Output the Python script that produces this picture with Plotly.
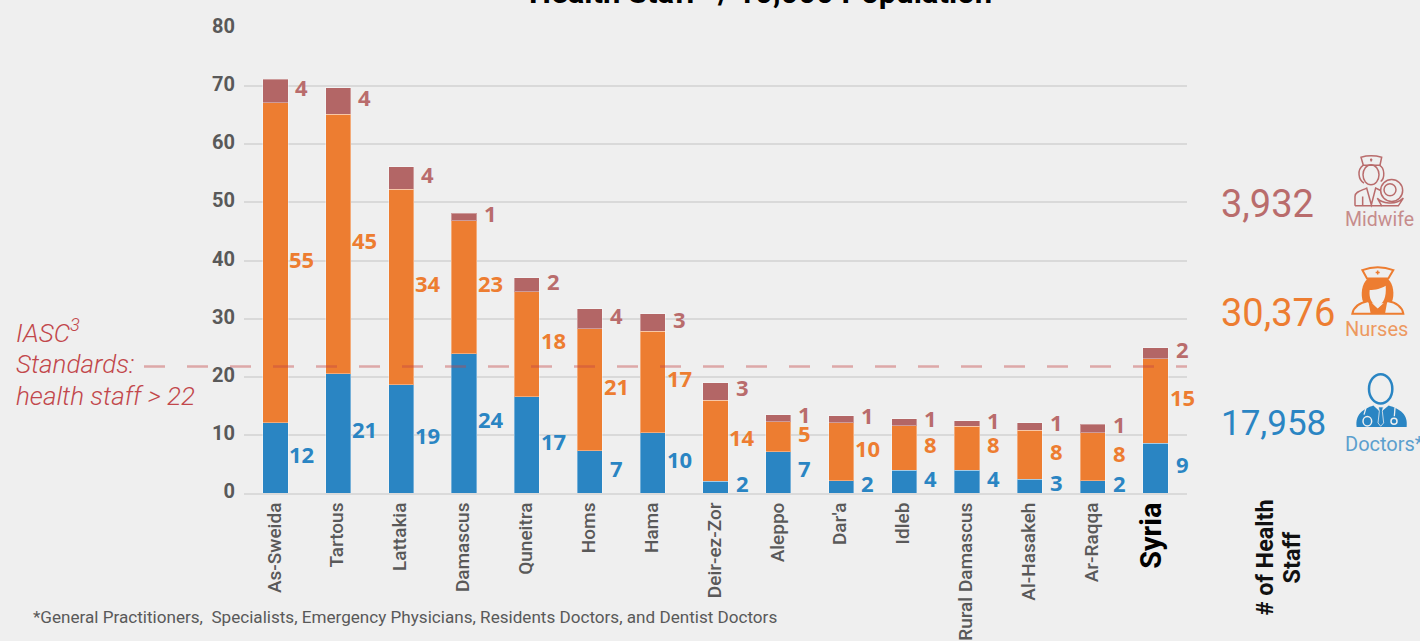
import re
import plotly.graph_objects as go

W, H = 1420, 641
PL, PR, PT, PB = 244, 1187, 28, 493.5

categories = ["As-Sweida", "Tartous", "Lattakia", "Damascus", "Queneitra", "Homs", "Hama", "Deir-ez-Zor",
              "Aleppo", "Dar'a", "Idleb", "Rural Damascus", "Al-Hasakeh", "Ar-Raqqa", "Syria"]
tick_labels = ["As-Sweida", "Tartous", "Lattakia", "Damascus", "Quneitra", "Homs", "Hama", "Deir-ez-Zor",
               "Aleppo", "Dar'a", "Idleb", "Rural Damascus", "Al-Hasakeh", "Ar-Raqqa",
               '<span style="font-size:29px;color:#000000"><b>Syria</b></span>']
doctors = [12.1, 20.5, 18.6, 24.0, 16.6, 7.3, 10.4, 2.0, 7.1, 2.1, 3.9, 3.9, 2.4, 2.1, 8.6]
nurses = [55.0, 44.7, 33.7, 22.8, 18.0, 21.0, 17.4, 14.0, 5.2, 10.0, 7.7, 7.6, 8.4, 8.3, 14.5]
midwives = [4.1, 4.5, 3.8, 1.3, 2.4, 3.4, 3.0, 3.0, 1.2, 1.2, 1.2, 0.9, 1.3, 1.4, 1.9]
doctor_labels = [12, 21, 19, 24, 17, 7, 10, 2, 7, 2, 4, 4, 3, 2, 9]
nurse_labels = [55, 45, 34, 23, 18, 21, 17, 14, 5, 10, 8, 8, 8, 8, 15]
midwife_labels = [4, 4, 4, 1, 2, 4, 3, 3, 1, 1, 1, 1, 1, 1, 2]
y_ticks = [0, 10, 20, 30, 40, 50, 60, 70, 80]
standard_value = 21.75

BG = "#EFEFEF"
BLUE, ORANGE, ROSE = "#2A85C3", "#ED7D31", "#B36666"
ROSE_TXT = "#B96C6C"
FONT = "Roboto"


def px(x):
    return (x - PL) / (PR - PL)


def py(y):
    return (PB - y) / (PB - PT)


fig = go.Figure()
edge = dict(color="rgba(255,255,255,0.35)", width=1)
for name, vals, col in [("Doctors", doctors, BLUE), ("Nurses", nurses, ORANGE), ("Midwife", midwives, ROSE)]:
    fig.add_bar(x=categories, y=vals, name=name, marker=dict(color=col, line=edge), hoverinfo="x+y")

ann = []
for i, c in enumerate(categories):
    base = 0
    for vals, labs, col in [(doctors, doctor_labels, BLUE), (nurses, nurse_labels, ORANGE), (midwives, midwife_labels, ROSE_TXT)]:
        ann.append(dict(x=c, y=base + vals[i] / 2, xref="x", yref="y", text=str(labs[i]), showarrow=False,
                        xshift=26.5, yshift=4, xanchor="center", yanchor="middle",
                        font=dict(family="Open Sans", size=22, color=col, weight=700)))
        base += vals[i]


def text(x, y, s, size, color, xanchor="left", yanchor="middle", angle=0, family=FONT, weight=400, italic=False, opacity=1):
    ann.append(dict(x=px(x), y=py(y), xref="paper", yref="paper", text=s, showarrow=False, xanchor=xanchor,
                    yanchor=yanchor, textangle=angle, opacity=opacity, align="center",
                    font=dict(family=family, size=size, color=color, weight=weight,
                              style="italic" if italic else "normal")))


text(760.5, -8, "Health Staff* / 10,000 Population", 31, "#000000", xanchor="center", weight=700)
text(31, 618, "*General Practitioners,\u00a0 Specialists, Emergency Physicians, Residents Doctors, and Dentist Doctors", 17.1, "#595959")
RED = "#C2474B"
text(14, 331, "IASC<sup>3</sup>", 26, RED, italic=True, weight=300)
text(14, 364, "Standards:", 26, RED, italic=True, weight=300)
text(14, 396, "health staff &gt; 22", 26, RED, italic=True, weight=300)
text(1219, 204, "3,932", 38, ROSE_TXT)
text(1219, 313, "30,376", 38, ORANGE)
text(1219, 424, "17,958", 35, BLUE)
text(1343, 220, "Midwife", 19.5, ROSE_TXT, opacity=0.75)
text(1343, 329, "Nurses", 20, ORANGE, opacity=0.75)
text(1343, 444, "Doctors*", 20, BLUE, opacity=0.75)
text(1265, 558, "# of Health", 23.4, "#111111", xanchor="center", angle=-90, weight=700)
text(1292, 558, "Staff", 23.4, "#111111", xanchor="center", angle=-90, weight=700)

# reference line
shapes = [dict(type="line", xref="paper", yref="y", x0=px(144), x1=1, y0=standard_value, y1=standard_value,
               line=dict(color="rgba(196,70,70,0.42)", width=2.5, dash="21px,22px"), layer="above")]


# pictograms, drawn in zoom-crop coordinates
def tr(path, ox, oy):
    toks = re.findall(r"[A-Za-z]|-?[\d.]+", path)
    out, isx = [], True
    for t in toks:
        if t.isalpha():
            out.append(t)
            isx = True
        else:
            v = float(t)
            out.append(f"{px(ox + v / 3):.5f}" if isx else f"{py(oy + v / 3):.5f}")
            isx = not isx
    return " ".join(out)


def oval(cx, cy, rx, ry):
    k = 0.5523
    return (f"M {cx-rx} {cy} C {cx-rx} {cy-k*ry} {cx-k*rx} {cy-ry} {cx} {cy-ry} "
            f"C {cx+k*rx} {cy-ry} {cx+rx} {cy-k*ry} {cx+rx} {cy} "
            f"C {cx+rx} {cy+k*ry} {cx+k*rx} {cy+ry} {cx} {cy+ry} "
            f"C {cx-k*rx} {cy+ry} {cx-rx} {cy+k*ry} {cx-rx} {cy} Z")


def icon(path, ox, oy, fill=None, line=None, width=1.5, opacity=1):
    shapes.append(dict(type="path", xref="paper", yref="paper", path=tr(path, ox, oy),
                       fillcolor=fill if fill else "rgba(0,0,0,0)", opacity=opacity,
                       line=dict(color=line if line else "rgba(0,0,0,0)", width=width if line else 0), layer="above"))


# midwife
o = (1340, 150)
R = "#B96C6C"
icon("M 63 22 Q 93 14 125 22 L 120 46 L 70 46 Z", *o, line=R)
icon("M 90 30 L 97 30 M 93.5 26 L 93.5 35", *o, line=R)
icon(oval(93, 75, 24, 30), *o, line=R)
icon("M 70 46 C 50 60 55 90 72 100 M 118 46 C 135 55 135 85 122 95", *o, line=R)
icon("M 45 168 L 45 140 C 45 125 65 122 80 115 L 94 165 L 107 115 L 122 122", *o, line=R)
icon("M 45 168 L 125 168 M 68 140 L 68 168", *o, line=R)
icon(oval(155, 122, 33, 33), *o, BG, R)
icon(oval(150, 120, 18, 18), *o, line=R)
icon("M 112 145 C 125 160 165 168 190 145 L 175 168 L 125 168 Z", *o, BG, R)
# nurse
o = (1340, 262)
icon("M 67 25 Q 113 8 160 25 L 145 50 L 81 50 Z", *o, line=ORANGE, width=2)
icon("M 107 32 L 119 32 M 113 26 L 113 38", *o, line=ORANGE, width=1.5)
icon("M 82 52 L 144 52 C 160 65 165 100 155 122 L 130 125 L 95 125 L 70 122 C 60 100 66 65 82 52 Z", *o, ORANGE)
icon("M 89 85 C 105 85 125 80 137 72 C 140 105 130 130 113 130 C 96 130 86 110 89 85 Z", *o, BG)
icon("M 37 156 C 42 130 65 122 85 118 L 113 145 L 142 118 C 165 122 185 130 190 156 Z", *o, BG, ORANGE, 2)
icon("M 85 118 L 113 142 L 142 118 L 135 156 L 92 156 Z", *o, ORANGE)
# doctor
o = (1340, 370)
icon(oval(122, 58, 35, 44), *o, line=BLUE, width=2.5)
icon("M 50 172 C 45 135 70 118 100 108 L 122 128 L 146 108 C 180 118 205 135 200 172 Z", *o, BLUE)
icon("M 78 115 L 72 135 M 165 115 L 163 140", *o, line=BG, width=1.3)
icon(oval(82, 155, 13, 14), *o, line=BG, width=1.5)
icon(oval(162, 155, 9, 9), *o, line=BG, width=1.5)
icon("M 115 112 L 130 112 L 127 125 L 131 160 L 122 170 L 114 160 L 118 125 Z", *o, BLUE, BG, 0.8)

fig.update_layout(
    width=W, height=H, autosize=False, showlegend=False, barmode="stack", bargap=0.6,
    margin=dict(l=PL, r=W - PR, t=PT, b=H - PB, pad=0),
    paper_bgcolor=BG, plot_bgcolor=BG, annotations=ann, shapes=shapes,
    font=dict(family=FONT, color="#595959"),
    xaxis=dict(type="category", categoryorder="array", categoryarray=categories, tickvals=categories,
               range=[-0.5, 14.5], ticktext=tick_labels, tickangle=-90, showgrid=False, ticks="", zeroline=False,
               showline=True, linecolor="#DADADA", linewidth=2, ticklabelshift=-1,
               tickfont=dict(family=FONT, size=19, color="#595959", weight=500), automargin=False),
    yaxis=dict(range=[0, 80], tickvals=y_ticks, showgrid=True, gridcolor="#D9D9D9", gridwidth=2, zeroline=False,
               ticks="", ticklabelstandoff=8, ticklabelshift=-2, automargin=False,
               tickfont=dict(family=FONT, size=20, color="#595959", weight=700)),
)

fig.write_html("out.html", post_script="document.body.style.margin='0';document.body.style.overflow='hidden';",
               config={"displayModeBar": False})
